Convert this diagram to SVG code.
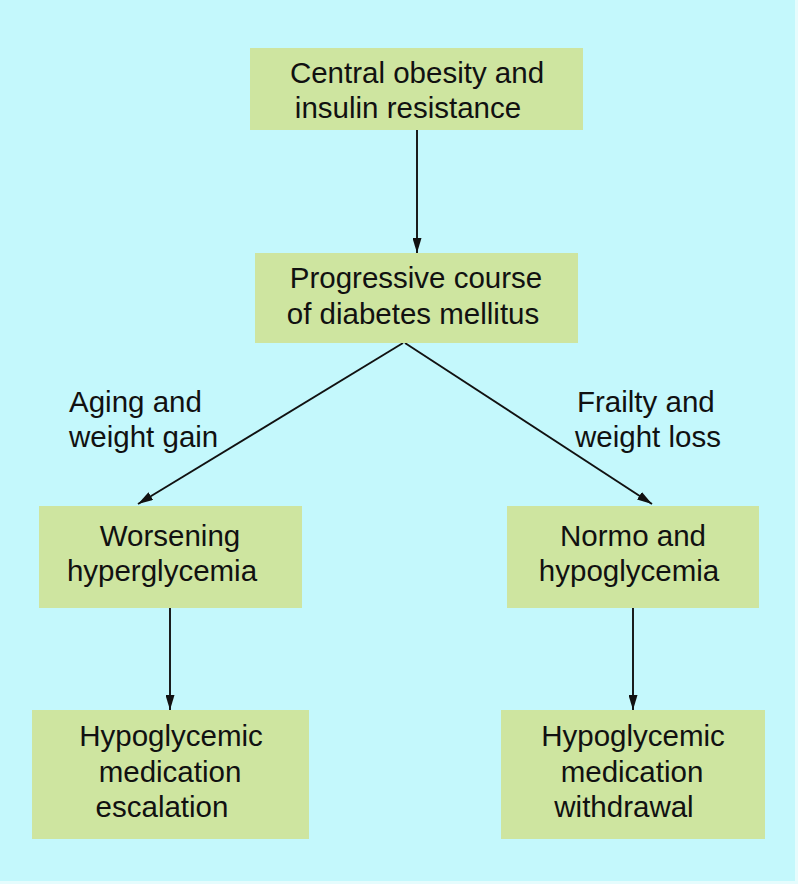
<svg xmlns="http://www.w3.org/2000/svg" width="798" height="884" viewBox="0 0 798 884">
<defs>
<style>
.box{fill:#cee5a0;}
.t{font-family:"Liberation Sans",Arial,sans-serif;font-size:29.5px;fill:#111;text-anchor:middle;}
.l{font-family:"Liberation Sans",Arial,sans-serif;font-size:29.5px;fill:#111;}
.c{stroke:#111;stroke-width:1.9;fill:none;marker-end:url(#ah);}
</style>
<marker id="ah" viewBox="0 0 15 9" refX="15" refY="4.5" markerWidth="15" markerHeight="9" markerUnits="userSpaceOnUse" orient="auto">
<path d="M0,0 L15,4.5 L0,9 Z" fill="#111"/>
</marker>
</defs>
<rect x="0" y="0" width="798" height="884" fill="#e6fcfd"/>
<rect x="0" y="0" width="795" height="881" fill="#c4f8fc"/>
<g id="connectors">
<line class="c" x1="417" y1="130" x2="417" y2="253"/>
<line class="c" x1="403" y1="343" x2="138" y2="504"/>
<line class="c" x1="405" y1="343" x2="652" y2="504"/>
<line class="c" x1="170" y1="608" x2="170" y2="710"/>
<line class="c" x1="633" y1="608" x2="633" y2="710"/>
</g>
<g id="n-central">
<rect class="box" x="250" y="48" width="333" height="82"/>
<text class="t" x="417" y="83">Central obesity and</text>
<text class="t" x="408" y="118">insulin resistance</text>
</g>
<g id="n-progressive">
<rect class="box" x="255" y="253" width="323" height="90"/>
<text class="t" x="416" y="288">Progressive course</text>
<text class="t" x="413" y="324">of diabetes mellitus</text>
</g>
<g id="n-worsening">
<rect class="box" x="39" y="506" width="263" height="102"/>
<text class="t" x="170" y="546">Worsening</text>
<text class="t" x="162" y="581">hyperglycemia</text>
</g>
<g id="n-normo">
<rect class="box" x="507" y="506" width="252" height="102"/>
<text class="t" x="633" y="546">Normo and</text>
<text class="t" x="629" y="581">hypoglycemia</text>
</g>
<g id="n-escalation">
<rect class="box" x="32" y="710" width="277" height="129"/>
<text class="t" x="171" y="746">Hypoglycemic</text>
<text class="t" x="170" y="782">medication</text>
<text class="t" x="162" y="817">escalation</text>
</g>
<g id="n-withdrawal">
<rect class="box" x="501" y="710" width="264" height="129"/>
<text class="t" x="633" y="746">Hypoglycemic</text>
<text class="t" x="632" y="782">medication</text>
<text class="t" x="624" y="817">withdrawal</text>
</g>
<g id="labels">
<text class="l" x="69" y="412">Aging and</text>
<text class="l" x="69" y="447">weight gain</text>
<text class="l" x="577" y="412">Frailty and</text>
<text class="l" x="575" y="447">weight loss</text>
</g>
</svg>
